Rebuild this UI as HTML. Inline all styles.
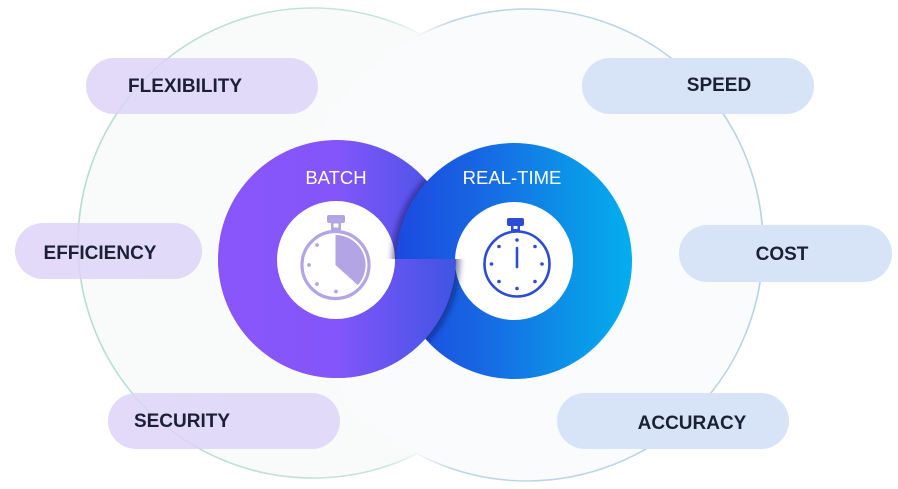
<!DOCTYPE html>
<html><head><meta charset="utf-8"><style>
html,body{margin:0;padding:0;background:#fff;}
svg{display:block;}
</style></head><body>
<svg width="898" height="489" viewBox="0 0 898 489" xmlns="http://www.w3.org/2000/svg">
<defs>
  <linearGradient id="gP" gradientUnits="userSpaceOnUse" x1="218" y1="0" x2="456" y2="0">
    <stop offset="0" stop-color="#8a56fc"/>
    <stop offset="0.5" stop-color="#8355fa"/>
    <stop offset="1" stop-color="#3f55e4"/>
  </linearGradient>
  <linearGradient id="gB" gradientUnits="userSpaceOnUse" x1="396" y1="0" x2="632" y2="0">
    <stop offset="0" stop-color="#1b4ae0"/>
    <stop offset="0.35" stop-color="#1866e3"/>
    <stop offset="0.75" stop-color="#0b95e8"/>
    <stop offset="1" stop-color="#03aeee"/>
  </linearGradient>
  <linearGradient id="sL" gradientUnits="userSpaceOnUse" x1="78" y1="0" x2="548" y2="0">
    <stop offset="0" stop-color="#b5ddce" stop-opacity="1"/>
    <stop offset="0.65" stop-color="#c6e5da" stop-opacity="1"/>
    <stop offset="0.74" stop-color="#c6e5da" stop-opacity="0"/>
    <stop offset="1" stop-color="#c6e5da" stop-opacity="0"/>
  </linearGradient>
  <linearGradient id="sR" gradientUnits="userSpaceOnUse" x1="291" y1="0" x2="763" y2="0">
    <stop offset="0" stop-color="#c0d6e4" stop-opacity="0"/>
    <stop offset="0.26" stop-color="#c0d6e4" stop-opacity="0"/>
    <stop offset="0.34" stop-color="#c0d6e4" stop-opacity="1"/>
    <stop offset="1" stop-color="#b8d3e3" stop-opacity="1"/>
  </linearGradient>
  <filter id="blur" x="-20%" y="-20%" width="140%" height="140%">
    <feGaussianBlur stdDeviation="3.5"/>
  </filter>
  <clipPath id="cPup"><circle cx="337" cy="259" r="119"/></clipPath>
  <clipPath id="cBlow"><circle cx="514" cy="261" r="118"/></clipPath>
  <clipPath id="top"><rect x="0" y="0" width="898" height="259"/></clipPath>
  <clipPath id="bot"><rect x="0" y="259" width="898" height="230"/></clipPath>
</defs>

<!-- big background circles -->
<circle cx="313" cy="243" r="235" fill="#f9fbfb" stroke="url(#sL)" stroke-width="1.6"/>
<circle cx="527" cy="245" r="236" fill="#f9fbfc" stroke="url(#sR)" stroke-width="1.6"/>

<!-- pills -->
<rect x="86" y="58" width="232" height="56" rx="28" fill="#ddd4f7" fill-opacity="0.85"/>
<rect x="15" y="223" width="187" height="56" rx="28" fill="#ddd4f7" fill-opacity="0.85"/>
<rect x="108" y="393" width="232" height="56" rx="28" fill="#ddd4f7" fill-opacity="0.85"/>
<rect x="582" y="58" width="232" height="56" rx="28" fill="#d7e4f8"/>
<rect x="679" y="225" width="213" height="57" rx="28.5" fill="#d7e4f8"/>
<rect x="557" y="393" width="232" height="56" rx="28" fill="#d7e4f8"/>

<g font-family="'Liberation Sans', Arial, sans-serif" font-weight="bold" font-size="19" fill="#1b2035" text-anchor="middle">
  <text x="185" y="92">FLEXIBILITY</text>
  <text x="100" y="259">EFFICIENCY</text>
  <text x="182" y="427">SECURITY</text>
  <text x="719" y="91">SPEED</text>
  <text x="782" y="260">COST</text>
  <text x="692" y="429">ACCURACY</text>
</g>

<!-- batch ring -->
<circle cx="337" cy="259" r="119" fill="url(#gP)"/>
<circle cx="336" cy="260" r="59" fill="#fff"/>

<!-- shadow of blue (upper) on purple -->
<g clip-path="url(#top)">
  <g clip-path="url(#cPup)">
    <circle cx="511" cy="261" r="118" fill="#1a0f55" fill-opacity="0.65" filter="url(#blur)"/>
  </g>
</g>

<!-- realtime ring -->
<circle cx="514" cy="261" r="118" fill="url(#gB)"/>
<circle cx="514" cy="261" r="59" fill="#fff"/>

<!-- shadow of purple (lower) on blue -->
<g clip-path="url(#bot)">
  <g clip-path="url(#cBlow)">
    <circle cx="340" cy="260" r="119" fill="#0b1450" fill-opacity="0.6" filter="url(#blur)"/>
  </g>
</g>
<!-- purple lower half on top -->
<g clip-path="url(#bot)">
  <circle cx="337" cy="259" r="119" fill="url(#gP)"/>
  <circle cx="336" cy="260" r="59" fill="#fff"/>
</g>

<!-- labels -->
<g font-family="'Liberation Sans', Arial, sans-serif" font-size="18.5" fill="#ffffff" text-anchor="middle">
  <text x="336" y="184">BATCH</text>
  <text x="512" y="184">REAL-TIME</text>
</g>

<!-- batch stopwatch -->
<g fill="#b3a4e6" stroke="none">
  <rect x="327" y="215" width="18" height="8" rx="2"/>
  <rect x="331" y="222" width="10" height="8"/>
  <rect x="333.5" y="223.5" width="5" height="4" fill="#fff"/>
  <circle cx="335.5" cy="265" r="33.5" fill="none" stroke="#b3a4e6" stroke-width="3.2"/>
  <path d="M335.5,265 L335.5,235 A30,30 0 0 1 357.8,285.1 Z"/>
  <circle cx="317" cy="245" r="1.9"/>
  <circle cx="309" cy="265" r="1.9"/>
  <circle cx="317" cy="284" r="1.9"/>
  <circle cx="336" cy="291.5" r="1.9"/>
</g>

<!-- realtime stopwatch -->
<g fill="#2c4bd6" stroke="none">
  <rect x="507" y="218" width="17" height="8" rx="2"/>
  <rect x="511" y="225" width="9" height="6"/>
  <rect x="513.5" y="226" width="4" height="3" fill="#fff"/>
  <circle cx="517" cy="264" r="32.5" fill="none" stroke="#2c4bd6" stroke-width="2.6"/>
  <line x1="517" y1="248" x2="517" y2="267" stroke="#2c4bd6" stroke-width="2.6" stroke-linecap="round"/>
  <circle cx="517" cy="240" r="1.8"/>
  <circle cx="535" cy="246.5" r="1.8"/>
  <circle cx="542" cy="264" r="1.8"/>
  <circle cx="535" cy="281.5" r="1.8"/>
  <circle cx="517" cy="288.5" r="1.8"/>
  <circle cx="499" cy="281.5" r="1.8"/>
  <circle cx="491.5" cy="264" r="1.8"/>
  <circle cx="499" cy="246.5" r="1.8"/>
</g>
</svg>
</body></html>
